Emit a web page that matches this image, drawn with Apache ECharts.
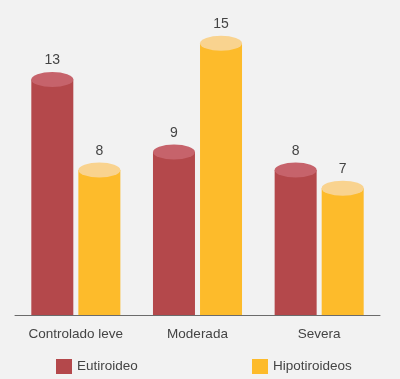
<!DOCTYPE html>
<html>
<head>
<meta charset="utf-8">
<script src="https://cdn.jsdelivr.net/npm/echarts@6/dist/echarts.min.js"></script>
<style>
  html, body { margin: 0; padding: 0; background: #f2f2f2; }
  #chart { width: 400px; height: 379px; }
</style>
</head>
<body>
<div id="chart"></div>
<script>
const categories = ['Controlado leve', 'Moderada', 'Severa']
const eutiroideo = [13, 9, 8]
const hipotiroideos = [8, 15, 7]

const FONT = '"Liberation Sans", Arial, sans-serif'
const RED = '#b4484b'
const RED_TOP = '#c6636b'
const YELLOW = '#fdbb2b'
const YELLOW_TOP = '#f9d38f'
const BAR_W = 42

const chart = echarts.init(document.getElementById('chart'))

function cylBody(name, data, color) {
  return {
    name, type: 'bar', data, barWidth: BAR_W, barGap: '12%',
    itemStyle: { color },
    label: {
      show: true, position: 'top', distance: 12,
      fontFamily: FONT, fontSize: 14, color: '#444',
    },
    z: 2,
  }
}

function cylTop(name, data, color) {
  return {
    name, type: 'pictorialBar', data, barWidth: BAR_W, barGap: '12%',
    symbol: 'circle', symbolSize: [BAR_W, 15],
    symbolPosition: 'end', symbolOffset: [0, '-50%'],
    itemStyle: { color },
    z: 3,
  }
}

function legendItem(name, left) {
  return {
    data: [name], left, top: 354,
    icon: 'rect', itemWidth: 16, itemHeight: 15,
    textStyle: { fontFamily: FONT, fontSize: 13.5, color: '#444' },
  }
}

chart.setOption({
  backgroundColor: '#f2f2f2',
  animation: false,
  grid: { left: 15, right: 20, top: 7, bottom: 64 },
  legend: [legendItem('Eutiroideo', 51), legendItem('Hipotiroideos', 247)],
  xAxis: {
    type: 'category', data: categories,
    axisLine: { lineStyle: { color: '#6b6b6b', width: 1 } },
    axisTick: { show: false },
    axisLabel: { interval: 0, margin: 12, fontFamily: FONT, fontSize: 13.5, color: '#444' },
  },
  yAxis: { type: 'value', min: 0, max: 17, show: false, splitLine: { show: false } },
  series: [
    cylBody('Eutiroideo', eutiroideo, RED),
    cylBody('Hipotiroideos', hipotiroideos, YELLOW),
    cylTop('Eutiroideo', eutiroideo, RED_TOP),
    cylTop('Hipotiroideos', hipotiroideos, YELLOW_TOP),
  ],
})
</script>
</body>
</html>
